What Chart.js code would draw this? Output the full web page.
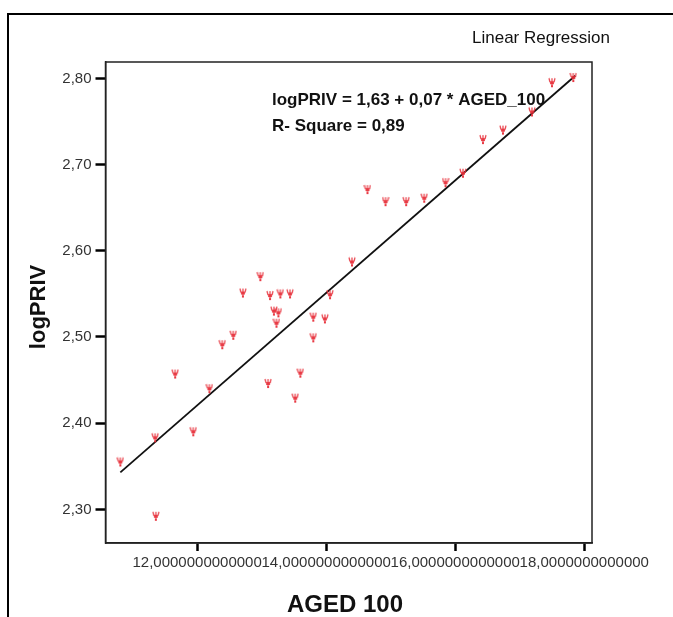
<!DOCTYPE html>
<html>
<head>
<meta charset="utf-8">
<script src="https://cdn.jsdelivr.net/npm/chart.js@4.4.0/dist/chart.umd.min.js"></script>
<style>
  html, body { margin: 0; padding: 0; background: #fff; }
  canvas { display: block; }
</style>
</head>
<body>
<canvas id="grafico" width="673" height="617"></canvas>
<script>
const ctx = document.getElementById("grafico");

// tick positions
const xTicks = [12, 14, 16, 18];
const yTicks = [2.3, 2.4, 2.5, 2.6, 2.7, 2.8];

// AGED_100 / logPRIV observations (estimated from the scatter)
const agedX = [
  10.81, 11.35, 11.36, 11.94, 11.66, 12.19, 12.39, 12.56, 12.71, 12.98,
  13.10, 13.13, 13.29, 13.44, 13.19, 13.26, 13.23, 13.52, 13.60, 13.80,
  13.80, 13.98, 14.06, 14.40, 14.64, 14.92, 15.24, 15.52, 15.85, 16.12,
  16.43, 16.74, 17.19, 17.50, 17.83,
];
const logPriv = [
  2.355, 2.383, 2.292, 2.390, 2.457, 2.440, 2.491, 2.502, 2.551, 2.570,
  2.446, 2.548, 2.550, 2.550, 2.530, 2.528, 2.516, 2.429, 2.458, 2.523,
  2.499, 2.521, 2.549, 2.587, 2.671, 2.657, 2.657, 2.661, 2.679, 2.690,
  2.729, 2.740, 2.761, 2.795, 2.801,
];

// fitted line end points
const fitX = [10.81, 17.86];
const fitY = [2.343, 2.803];

const eqLines = ["logPRIV = 1,63 + 0,07 * AGED_100", "R- Square = 0,89"];

function commaNum(v, d) {
  return v.toFixed(d).replace(".", ",");
}

// little red SPSS style marker
function makeMarker() {
  const c = document.createElement("canvas");
  c.width = 8;
  c.height = 11;
  const g = c.getContext("2d");
  g.strokeStyle = "rgba(230,45,55,0.85)";
  g.fillStyle = "rgba(230,45,55,0.85)";
  g.lineWidth = 1.3;
  g.beginPath();
  g.moveTo(1, 1);
  g.lineTo(2, 5);
  g.moveTo(7, 1);
  g.lineTo(6, 5);
  g.moveTo(4, 1);
  g.lineTo(4, 10);
  g.stroke();
  g.fillRect(2, 4, 4, 3);
  g.fillRect(3, 8, 2, 2);
  return c;
}

const textPlugin = {
  id: "textPlugin",
  afterDraw(chart) {
    const c = chart.ctx;
    const a = chart.chartArea;
    c.save();
    // outer frame
    c.strokeStyle = "#000";
    c.lineWidth = 2;
    c.beginPath();
    c.moveTo(8, 617);
    c.lineTo(8, 14);
    c.lineTo(673, 14);
    c.stroke();
    // plot frame
    c.lineWidth = 1.5;
    c.strokeStyle = "#222";
    c.strokeRect(a.left, a.top, a.right - a.left, a.bottom - a.top);

    c.fillStyle = "#111";
    c.font = "17px 'Liberation Sans', Arial";
    c.textBaseline = "alphabetic";
    c.fillText("Linear Regression", 472, 43);

    c.font = "bold 17px 'Liberation Sans', Arial";
    c.fillText(eqLines[0], 272, 105);
    c.fillText(eqLines[1], 272, 131);

    c.font = "bold 24px 'Liberation Sans', Arial";
    c.textAlign = "center";
    c.fillText("AGED 100", 345, 612);

    c.translate(45, 307);
    c.rotate(-Math.PI / 2);
    c.font = "bold 22px 'Liberation Sans', Arial";
    c.fillText("logPRIV", 0, 0);
    c.restore();
  },
};

const tickFont = { family: "'Liberation Sans', Arial", size: 15 };

new Chart(ctx, {
  type: "scatter",
  data: {
    datasets: [
      {
        label: "logPRIV",
        data: agedX.map((x, i) => ({ x: x, y: logPriv[i] })),
        pointStyle: makeMarker(),
        pointRadius: 5,
      },
      {
        label: "fit",
        type: "line",
        data: fitX.map((x, i) => ({ x: x, y: fitY[i] })),
        borderColor: "#111",
        borderWidth: 1.8,
        pointRadius: 0,
        fill: false,
      },
    ],
  },
  plugins: [textPlugin],
  options: {
    responsive: false,
    animation: false,
    layout: { padding: { left: 45.5, right: 81, top: 62, bottom: 44 } },
    plugins: { legend: { display: false }, tooltip: { enabled: false } },
    scales: {
      x: {
        type: "linear",
        min: 10.58,
        max: 18.12,
        afterBuildTicks: (s) => {
          s.ticks = xTicks.map((v) => ({ value: v }));
        },
        afterFit: (s) => {
          s.height = 30;
        },
        grid: { drawOnChartArea: false, tickLength: 8, tickWidth: 2.5, tickColor: "#000" },
        border: { color: "#222", width: 1.5 },
        ticks: {
          autoSkip: false,
          maxRotation: 0,
          padding: 3,
          color: "#333",
          font: tickFont,
          callback: (v) => commaNum(v, 13),
        },
      },
      y: {
        min: 2.261,
        max: 2.819,
        afterBuildTicks: (s) => {
          s.ticks = yTicks.map((v) => ({ value: v }));
        },
        afterFit: (s) => {
          s.width = 60;
        },
        grid: { drawOnChartArea: false, tickLength: 10, tickWidth: 2.5, tickColor: "#000" },
        border: { color: "#222", width: 1.5 },
        ticks: {
          padding: 4,
          color: "#333",
          font: tickFont,
          callback: (v) => commaNum(v, 2),
        },
      },
    },
  },
});
</script>
</body>
</html>
